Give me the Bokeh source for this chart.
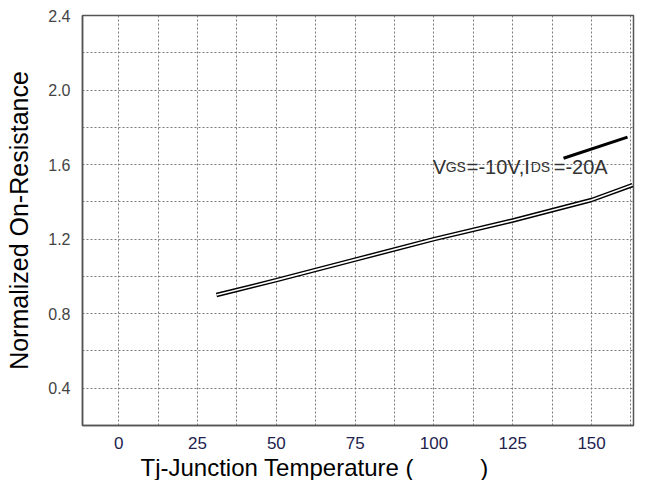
import numpy as np
from bokeh.plotting import figure
from bokeh.models import Range1d, FixedTicker, Label, Title
from bokeh.embed import file_html
from bokeh.resources import INLINE

# ---- data ----
temps = [31, 50, 75, 100, 125, 150, 163]          # Tj (deg C)
rds_norm = [0.90, 0.98, 1.09, 1.20, 1.30, 1.41, 1.49]  # normalized RDS(on)

x_ticks = [0, 25, 50, 75, 100, 125, 150]
x_tick_labels = ["0", "25", "50", "75", "100", "125", "150"]
y_ticks = [0.4, 0.8, 1.2, 1.6, 2.0, 2.4]
y_tick_labels = ["0.4", "0.8", "1.2", "1.6", "2.0", "2.4"]

cond_parts = ["V", "GS", "=-10V,I", "DS", "=-20A"]
cond_anchor = (99.6, 1.586)
leader_x = [141.1, 161.4]
leader_y = [1.634, 1.747]

x_title = "Tj-Junction Temperature (" + "\u00a0" * 10 + ")"
y_title = "Normalized On-Resistance"

FONT = "Liberation Sans"

p = figure(width=640, height=480, output_backend="svg", toolbar_location=None,
           x_range=Range1d(-11.5, 163.3), y_range=Range1d(0.2, 2.4),
           min_border_left=82, min_border_right=7, min_border_top=15,
           min_border_bottom=55)
p.background_fill_color = "white"
p.border_fill_color = "white"
p.outline_line_color = "#555555"
p.outline_line_width = 1.5

# grids
p.xgrid.ticker = FixedTicker(ticks=list(np.arange(0, 163, 12.5)))
p.ygrid.ticker = FixedTicker(ticks=[round(v, 1) for v in np.arange(0.4, 2.39, 0.2)])
for g in (p.xgrid, p.ygrid):
    g.grid_line_color = "#7a7a7a"
    g.grid_line_dash = "2 2"
    g.grid_line_width = 1

# axes
p.xaxis.ticker = FixedTicker(ticks=x_ticks)
p.xaxis.major_label_overrides = {t: l for t, l in zip(x_ticks, x_tick_labels)}
p.yaxis.ticker = FixedTicker(ticks=y_ticks)
p.yaxis.major_label_overrides = {t: l for t, l in zip(y_ticks, y_tick_labels)}
for ax in (p.xaxis, p.yaxis):
    ax.major_tick_line_color = None
    ax.minor_tick_line_color = None
    ax.axis_line_color = "#555555"
    ax.axis_line_width = 1.5
    ax.major_label_text_font = FONT
p.xaxis.major_label_text_font_size = "17px"
p.xaxis.major_label_text_color = "#22224f"
p.xaxis.major_label_standoff = 5
p.yaxis.major_label_text_font_size = "16px"
p.yaxis.major_label_text_color = "#444444"
p.yaxis.major_label_standoff = 6

# y axis title
p.yaxis.axis_label = y_title
p.yaxis.axis_label_text_font = FONT
p.yaxis.axis_label_text_font_size = "25px"
p.yaxis.axis_label_text_font_style = "normal"
p.yaxis.axis_label_text_color = "black"
p.yaxis.axis_label_standoff = 12

# x axis title (left-aligned with offset, as in the reference)
p.add_layout(Title(text=x_title, align="left", offset=58, text_font=FONT,
                   text_font_size="24px", text_font_style="normal",
                   text_color="black", standoff=0), "below")

# curve (double-stroke look)
p.line(temps, rds_norm, line_color="black", line_width=4.5)
p.line(temps, rds_norm, line_color="white", line_width=1.6)

# leader line
p.line(leader_x, leader_y, line_color="black", line_width=3)

# condition text with subscripts
offsets = [0, 13, 34, 98, 121]
sizes = ["20px", "14px", "20px", "14px", "20px"]
for txt, off, sz in zip(cond_parts, offsets, sizes):
    p.add_layout(Label(x=cond_anchor[0], y=cond_anchor[1], x_offset=off, text=txt,
                       text_font=FONT, text_font_size=sz, text_color="#333333",
                       text_baseline="alphabetic", text_align="left"))

open("out.html", "w").write(file_html(p, INLINE))
